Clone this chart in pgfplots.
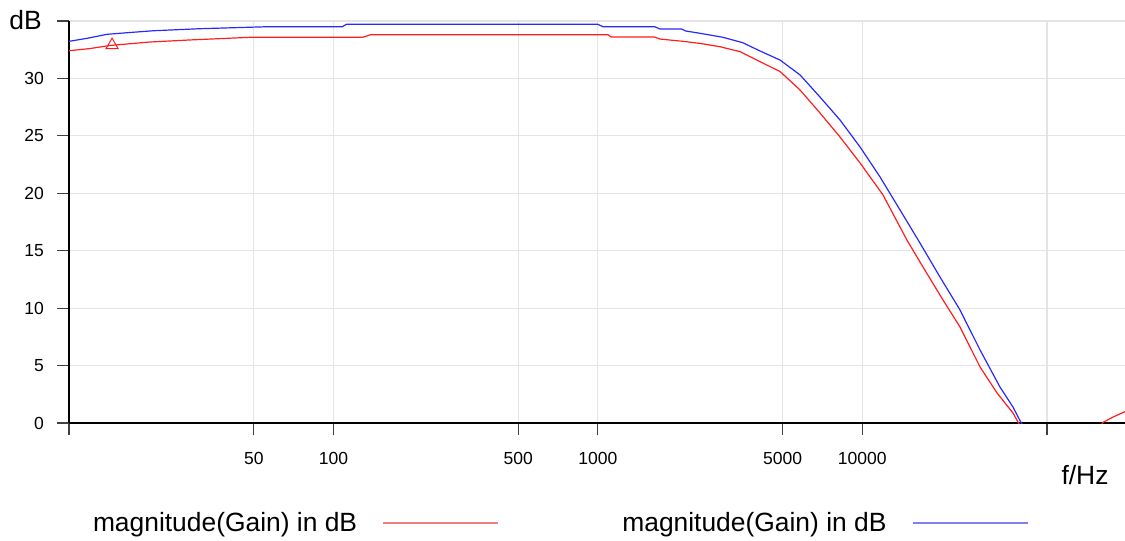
\documentclass[border=0pt]{standalone}
\usepackage{fontspec}
\setmainfont{Liberation Sans}
\usepackage{pgfplots}
\usepackage{pgfplotstable}
\pgfplotsset{compat=1.18}
\definecolor{cred}{RGB}{255,30,30}
\definecolor{cblue}{RGB}{40,40,255}
\definecolor{lred}{RGB}{242,128,128}
\definecolor{lblue}{RGB}{128,128,242}
\definecolor{gridc}{RGB}{228,228,228}
\pgfplotstableread{
f dB
10 32.41
12 32.6
14.3 32.87
20.2 33.17
28.7 33.35
48.4 33.58
129 33.58
138 33.8
1093 33.8
1125 33.6
1644 33.6
1718 33.43
2100 33.23
2435 33.05
2899 32.76
3451 32.33
4108 31.46
4891 30.6
5823 28.99
6925 26.99
8243 24.9
9815 22.64
11990 19.85
14760 15.93
16980 13.58
20210 10.71
23440 8.36
27900 4.88
32360 2.61
37180 0.87
38820 0.09
43000 -1.5
52000 -3.5
65000 -3
75000 -1.2
81400 0.05
88840 0.52
100000 1.05
}\redtab
\pgfplotstableread{
f dB
10 33.23
11.7 33.49
13.9 33.84
16.6 33.98
20.8 34.15
31.3 34.33
56 34.5
108 34.5
112 34.71
1000 34.71
1047 34.5
1644 34.5
1718 34.3
2075 34.3
2150 34.13
2435 33.93
2975 33.58
3535 33.11
4108 32.39
4891 31.6
5823 30.3
6925 28.38
8243 26.38
9815 24.03
11680 21.42
13900 18.55
16540 15.67
19690 12.71
23440 9.84
27900 6.36
33200 3.13
37180 1.39
39780 0.09
45000 -1.8
60000 -5
100000 -8
}\bluetab
\begin{document}
\begin{tikzpicture}
\useasboundingbox (-34.5pt,-59pt) rectangle (528pt,211.5pt);
\begin{axis}[
  at={(0,0)}, anchor=south west,
  scale only axis, width=528.8pt, height=201pt,
  xmode=log, xmin=10, xmax=100000, ymin=0, ymax=35,
  axis x line*=bottom, axis y line*=left,
  axis line style={black, line width=0.6pt, -},
  xtick={10,50,100,500,1000,5000,10000,50000},
  xticklabels={,50,100,500,1000,5000,10000,},
  minor xtick={},
  ytick={0,5,10,15,20,25,30,35},
  yticklabels={0,5,10,15,20,25,30,},
  tick align=outside, major tick length=6pt,
  tick style={color=black!75, line width=0.6pt},
  grid=major, major grid style={gridc, line width=0.6pt},
  tick label style={font=\fontsize{8.75}{10}\selectfont},
  xticklabel style={yshift=-5pt},
  yticklabel style={xshift=-3pt},
  legend style={at={(axis description cs:0,0)}, anchor=west, xshift=12pt, yshift=-50pt,
    draw=none, fill=none, inner sep=0pt, outer sep=0pt,
    font=\fontsize{13.2}{15}\selectfont,
    nodes={inner sep=0pt},
    /tikz/every odd column/.append style={column sep=12.5pt},
    /tikz/every even column/.append style={column sep=61.5pt}},
  legend columns=2,
  legend plot pos=right,
  legend cell align=left,
  legend image code/.code={\draw[#1] (0pt,0pt) -- (57.5pt,0pt);},
]
\addplot[cred, line width=0.6pt, forget plot] table[x=f,y=dB] {\redtab};
\addplot[cblue, line width=0.6pt, forget plot] table[x=f,y=dB] {\bluetab};
\addplot[only marks, mark=triangle, mark size=3.5pt, cred, mark options={line width=0.5pt}, forget plot] coordinates {(14.55,32.9)};
\addlegendimage{lred, line width=1.1pt}
\addlegendentry{magnitude(Gain) in dB}
\addlegendimage{lblue, line width=1.1pt}
\addlegendentry{magnitude(Gain) in dB}
\end{axis}
\node[font=\fontsize{13.2}{15}\selectfont] at (-21.75pt,201.5pt) {dB};
\node[font=\fontsize{13.2}{15}\selectfont] at (508pt,-26pt) {f/Hz};
\end{tikzpicture}
\end{document}
